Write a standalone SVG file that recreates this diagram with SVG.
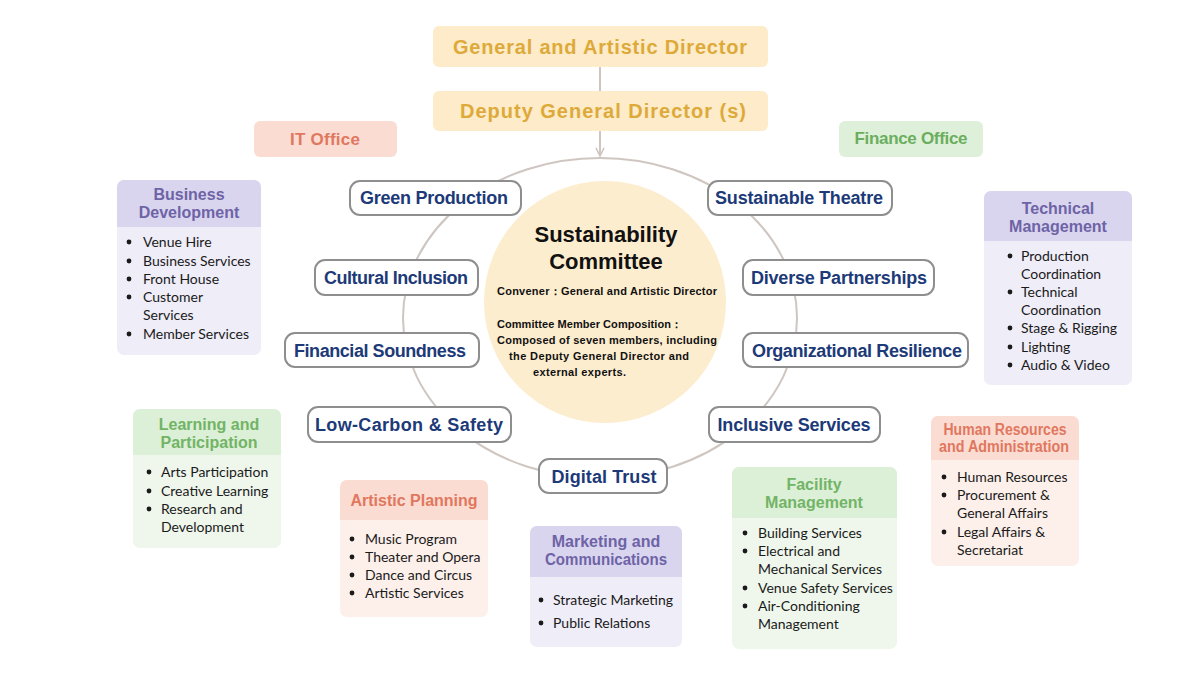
<svg xmlns="http://www.w3.org/2000/svg" width="1200" height="675" viewBox="0 0 1200 675">
<defs>
<style>
.top{fill:#FDEBC9}
.toptx{font-family:"Liberation Sans",Arial,sans-serif;font-size:20px;font-weight:bold;fill:#DDAA3A;text-anchor:middle}
.office{font-family:"Liberation Sans",Arial,sans-serif;font-size:17px;font-weight:bold;text-anchor:middle}
.pill{fill:#FFFFFF;stroke:#8E8E8E;stroke-width:2}
.ptx{font-family:"Liberation Sans",Arial,sans-serif;font-size:18px;font-weight:bold;fill:#1D3A78;text-anchor:middle}
.hd{font-family:"Liberation Sans",Arial,sans-serif;font-size:16px;font-weight:bold;text-anchor:middle}
.li{font-family:Lato,"Noto Sans",sans-serif;font-size:14px;fill:#1A1A1A}
.dot{fill:#1A1A1A}
.pH{fill:#D9D5EE}.pB{fill:#EFEDF8}.pT{fill:#6E63A6}
.gH{fill:#DCEFD7}.gB{fill:#EFF7EC}.gT{fill:#72B466}
.sH{fill:#FBDCD2}.sB{fill:#FDF0EB}.sT{fill:#E0775E}
.ctr{font-family:"Liberation Sans",Arial,sans-serif;font-weight:bold;fill:#111111}
.conn{stroke:#CFC6C1;stroke-width:2;fill:none}
</style>
<marker id="arr" viewBox="0 0 10 10" refX="9" refY="5" markerWidth="10" markerHeight="10" markerUnits="userSpaceOnUse" orient="auto">
<path d="M1,1 L9,5 L1,9" fill="none" stroke="#CFC6C1" stroke-width="1.6"/>
</marker>
</defs>
<rect width="1200" height="675" fill="#FFFFFF"/>

<g id="connectors">
<line class="conn" x1="600" y1="67" x2="600" y2="91"/>
<line class="conn" x1="600" y1="130" x2="600" y2="156" marker-end="url(#arr)"/>
<ellipse class="conn" cx="600" cy="318" rx="197" ry="160"/>
</g>

<g id="general-director">
<rect class="top" x="433" y="26" width="335" height="41" rx="6"/>
<text class="toptx" x="600" y="54" textLength="294" lengthAdjust="spacing">General and Artistic Director</text>
</g>
<g id="deputy-director">
<rect class="top" x="433" y="91" width="335" height="40" rx="6"/>
<text class="toptx" x="603" y="118" textLength="286" lengthAdjust="spacing">Deputy General Director (s)</text>
</g>

<g id="it-office">
<rect x="254" y="121" width="143" height="36" rx="6" fill="#FADCD3"/>
<text class="office" x="325" y="145" fill="#E0775E" textLength="70" lengthAdjust="spacing">IT Office</text>
</g>
<g id="finance-office">
<rect x="839" y="121" width="144" height="36" rx="6" fill="#DFF0DA"/>
<text class="office" x="911" y="144" fill="#6AAE5E" textLength="113" lengthAdjust="spacing">Finance Office</text>
</g>

<g id="sustainability-committee">
<circle cx="605" cy="302" r="121" fill="#FDEDCF"/>
<text class="ctr" x="606" y="242" font-size="22" text-anchor="middle">Sustainability</text>
<text class="ctr" x="606" y="269" font-size="22" text-anchor="middle">Committee</text>
<text class="ctr" x="497" y="295" font-size="11" textLength="220" lengthAdjust="spacing">Convener：General and Artistic Director</text>
<text class="ctr" x="497" y="328" font-size="11" textLength="185" lengthAdjust="spacing">Committee Member Composition：</text>
<text class="ctr" x="497" y="344" font-size="11" textLength="220" lengthAdjust="spacing">Composed of seven members, including</text>
<text class="ctr" x="509" y="360" font-size="11" textLength="180" lengthAdjust="spacing">the Deputy General Director and</text>
<text class="ctr" x="533" y="376" font-size="11" textLength="93" lengthAdjust="spacing">external experts.</text>
</g>

<g id="green-production">
<rect class="pill" x="350" y="181" width="171" height="34" rx="10"/>
<text class="ptx" x="434" y="204" textLength="148" lengthAdjust="spacing">Green Production</text>
</g>
<g id="sustainable-theatre">
<rect class="pill" x="708" y="181" width="184" height="34" rx="10"/>
<text class="ptx" x="799" y="204" textLength="168" lengthAdjust="spacing">Sustainable Theatre</text>
</g>
<g id="cultural-inclusion">
<rect class="pill" x="315" y="260" width="163" height="35" rx="10"/>
<text class="ptx" x="396" y="284" textLength="144" lengthAdjust="spacing">Cultural Inclusion</text>
</g>
<g id="diverse-partnerships">
<rect class="pill" x="743" y="260" width="191" height="35" rx="10"/>
<text class="ptx" x="839" y="284" textLength="176" lengthAdjust="spacing">Diverse Partnerships</text>
</g>
<g id="financial-soundness">
<rect class="pill" x="285" y="333" width="194" height="34" rx="10"/>
<text class="ptx" x="380" y="357" textLength="172" lengthAdjust="spacing">Financial Soundness</text>
</g>
<g id="organizational-resilience">
<rect class="pill" x="743" y="333" width="225" height="34" rx="10"/>
<text class="ptx" x="857" y="357" textLength="210" lengthAdjust="spacing">Organizational Resilience</text>
</g>
<g id="low-carbon-safety">
<rect class="pill" x="308" y="407" width="203" height="35" rx="10"/>
<text class="ptx" x="409" y="431" textLength="188" lengthAdjust="spacing">Low-Carbon &amp; Safety</text>
</g>
<g id="inclusive-services">
<rect class="pill" x="709" y="407" width="171" height="35" rx="10"/>
<text class="ptx" x="794" y="431" textLength="153" lengthAdjust="spacing">Inclusive Services</text>
</g>
<g id="digital-trust">
<rect class="pill" x="539" y="459" width="128" height="34" rx="10"/>
<text class="ptx" x="604" y="483" textLength="105" lengthAdjust="spacing">Digital Trust</text>
</g>

<g id="business-development">
<rect class="pB" x="117" y="180" width="144" height="175" rx="7"/>
<path class="pH" d="M124,180 H254 A7,7 0 0 1 261,187 V227 H117 V187 A7,7 0 0 1 124,180 Z"/>
<text class="hd pT" x="189" y="200">Business</text>
<text class="hd pT" x="189" y="218">Development</text>
<circle class="dot" cx="129" cy="242" r="2.4"/><text class="li" x="143" y="247">Venue Hire</text>
<circle class="dot" cx="129" cy="261" r="2.4"/><text class="li" x="143" y="266">Business Services</text>
<circle class="dot" cx="129" cy="279" r="2.4"/><text class="li" x="143" y="284">Front House</text>
<circle class="dot" cx="129" cy="297" r="2.4"/><text class="li" x="143" y="302">Customer</text>
<text class="li" x="143" y="320">Services</text>
<circle class="dot" cx="129" cy="334" r="2.4"/><text class="li" x="143" y="339">Member Services</text>
</g>

<g id="learning-participation">
<rect class="gB" x="133" y="409" width="148" height="139" rx="7"/>
<path class="gH" d="M140,409 H274 A7,7 0 0 1 281,416 V455 H133 V416 A7,7 0 0 1 140,409 Z"/>
<text class="hd gT" x="209" y="430">Learning and</text>
<text class="hd gT" x="209" y="448">Participation</text>
<circle class="dot" cx="149" cy="472" r="2.4"/><text class="li" x="161" y="477">Arts Participation</text>
<circle class="dot" cx="149" cy="491" r="2.4"/><text class="li" x="161" y="496">Creative Learning</text>
<circle class="dot" cx="149" cy="509" r="2.4"/><text class="li" x="161" y="514">Research and</text>
<text class="li" x="161" y="532">Development</text>
</g>

<g id="artistic-planning">
<rect class="sB" x="340" y="480" width="148" height="137" rx="7"/>
<path class="sH" d="M347,480 H481 A7,7 0 0 1 488,487 V520 H340 V487 A7,7 0 0 1 347,480 Z"/>
<text class="hd sT" x="414" y="506">Artistic Planning</text>
<circle class="dot" cx="352" cy="539" r="2.4"/><text class="li" x="365" y="544">Music Program</text>
<circle class="dot" cx="352" cy="557" r="2.4"/><text class="li" x="365" y="562">Theater and Opera</text>
<circle class="dot" cx="352" cy="575" r="2.4"/><text class="li" x="365" y="580">Dance and Circus</text>
<circle class="dot" cx="352" cy="593" r="2.4"/><text class="li" x="365" y="598">Artistic Services</text>
</g>

<g id="marketing-communications">
<rect class="pB" x="530" y="526" width="152" height="121" rx="7"/>
<path class="pH" d="M537,526 H675 A7,7 0 0 1 682,533 V577 H530 V533 A7,7 0 0 1 537,526 Z"/>
<text class="hd pT" x="606" y="547">Marketing and</text>
<text class="hd pT" x="606" y="565" textLength="122" lengthAdjust="spacingAndGlyphs">Communications</text>
<circle class="dot" cx="541" cy="600" r="2.4"/><text class="li" x="553" y="605">Strategic Marketing</text>
<circle class="dot" cx="541" cy="623" r="2.4"/><text class="li" x="553" y="628">Public Relations</text>
</g>

<g id="facility-management">
<rect class="gB" x="732" y="467" width="165" height="182" rx="7"/>
<path class="gH" d="M739,467 H890 A7,7 0 0 1 897,474 V518 H732 V474 A7,7 0 0 1 739,467 Z"/>
<text class="hd gT" x="814" y="490">Facility</text>
<text class="hd gT" x="814" y="508">Management</text>
<circle class="dot" cx="745" cy="533" r="2.4"/><text class="li" x="758" y="538">Building Services</text>
<circle class="dot" cx="745" cy="551" r="2.4"/><text class="li" x="758" y="556">Electrical and</text>
<text class="li" x="758" y="574">Mechanical Services</text>
<circle class="dot" cx="745" cy="588" r="2.4"/><text class="li" x="758" y="593">Venue Safety Services</text>
<circle class="dot" cx="745" cy="606" r="2.4"/><text class="li" x="758" y="611">Air-Conditioning</text>
<text class="li" x="758" y="629">Management</text>
</g>

<g id="technical-management">
<rect class="pB" x="984" y="191" width="148" height="194" rx="7"/>
<path class="pH" d="M991,191 H1125 A7,7 0 0 1 1132,198 V241 H984 V198 A7,7 0 0 1 991,191 Z"/>
<text class="hd pT" x="1058" y="214">Technical</text>
<text class="hd pT" x="1058" y="232">Management</text>
<circle class="dot" cx="1010" cy="256" r="2.4"/><text class="li" x="1021" y="261">Production</text>
<text class="li" x="1021" y="279">Coordination</text>
<circle class="dot" cx="1010" cy="292" r="2.4"/><text class="li" x="1021" y="297">Technical</text>
<text class="li" x="1021" y="315">Coordination</text>
<circle class="dot" cx="1010" cy="328" r="2.4"/><text class="li" x="1021" y="333">Stage &amp; Rigging</text>
<circle class="dot" cx="1010" cy="347" r="2.4"/><text class="li" x="1021" y="352">Lighting</text>
<circle class="dot" cx="1010" cy="365" r="2.4"/><text class="li" x="1021" y="370">Audio &amp; Video</text>
</g>

<g id="human-resources-administration">
<rect class="sB" x="931" y="416" width="148" height="150" rx="7"/>
<path class="sH" d="M938,416 H1072 A7,7 0 0 1 1079,423 V460 H931 V423 A7,7 0 0 1 938,416 Z"/>
<text class="hd sT" x="1005" y="435" font-size="14" textLength="123" lengthAdjust="spacingAndGlyphs">Human Resources</text>
<text class="hd sT" x="1004" y="452" font-size="14" textLength="130" lengthAdjust="spacingAndGlyphs">and Administration</text>
<circle class="dot" cx="944" cy="477" r="2.4"/><text class="li" x="957" y="482">Human Resources</text>
<circle class="dot" cx="944" cy="495" r="2.4"/><text class="li" x="957" y="500">Procurement &amp;</text>
<text class="li" x="957" y="518">General Affairs</text>
<circle class="dot" cx="944" cy="532" r="2.4"/><text class="li" x="957" y="537">Legal Affairs &amp;</text>
<text class="li" x="957" y="555">Secretariat</text>
</g>
</svg>
